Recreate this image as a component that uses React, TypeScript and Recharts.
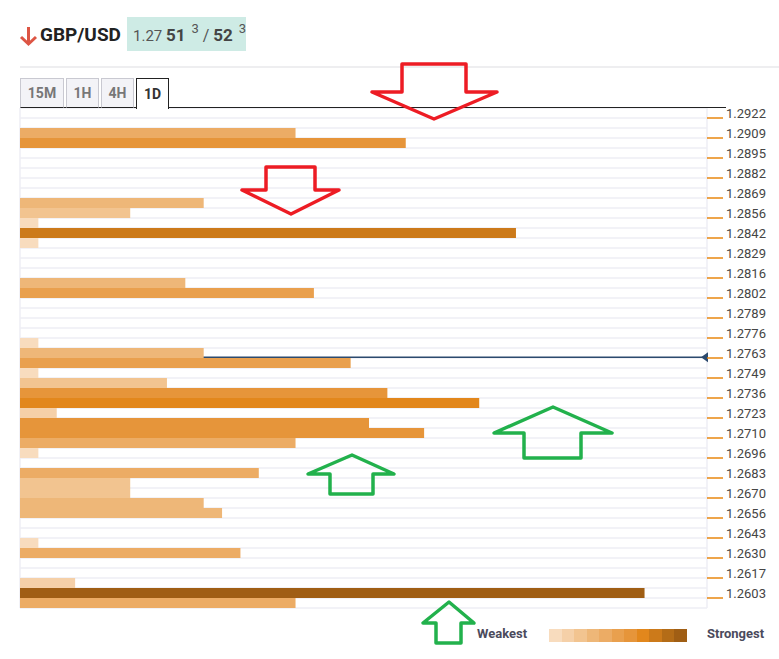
import React from 'react';
import { BarChart, Bar, XAxis, YAxis, CartesianGrid, Cell } from 'recharts';

// price levels shown on the right axis (one label every second row)
const tickLabels = [
    '1.2922', '1.2909', '1.2895', '1.2882', '1.2869', '1.2856', '1.2842', '1.2829',
    '1.2816', '1.2802', '1.2789', '1.2776', '1.2763', '1.2749', '1.2736', '1.2723',
    '1.2710', '1.2696', '1.2683', '1.2670', '1.2656', '1.2643', '1.2630', '1.2617', '1.2603',
];

// confluence strength per row, top to bottom
const strength = [
    0, 0, 15, 21, 0, 0, 0, 0, 0, 10,
    6, 1, 27, 1, 0, 0, 0, 9, 16, 0,
    0, 0, 0, 1, 10, 18, 1, 8, 20, 25,
    2, 19, 22, 15, 1, 0, 13, 6, 6, 10,
    11, 0, 0, 1, 12, 0, 0, 3, 34, 15,
];

const currentPriceRow = 24; // live price sits on the bottom edge of this row
const timeframes = ['15M', '1H', '4H', '1D'];
const activeTimeframe = '1D';

const PALETTE = [
    '#F8DCBE', '#F5D0A8', '#F2C490', '#EEB778', '#ECAC65', '#E9A04E',
    '#E6953A', '#E2871C', '#CC7A1A', '#B46C17', '#A05E14',
];
const LIMITS = [1, 3, 8, 11, 15, 18, 22, 26, 29, 32];

const colorFor = (v: number) => {
    const idx = LIMITS.findIndex(l => v <= l);
    return PALETTE[idx === -1 ? PALETTE.length - 1 : idx];
};

const data = strength.map((v, i) => ({
    row: i,
    value: v,
    label: i % 2 === 0 ? tickLabels[i / 2] : '',
}));

const PriceTick = (props: any) => {
    const { x, y, payload } = props;
    const label = data[payload.value]?.label;
    if (!label) return null;
    return (
        <g>
            <line x1={x} x2={x + 16} y1={y + 5} y2={y + 5} stroke="#E8870F" strokeWidth={1.5} />
            <text x={x + 19} y={y} dy="0.36em" fontSize={13} fill="#454545" fontFamily="Roboto, sans-serif">
                {label}
            </text>
        </g>
    );
};

// drawn as the row background so the bars cover it, like the original widget
const PriceLine = (props: any) => {
    const { x, y, width, height, payload } = props;
    if (!payload || payload.row !== currentPriceRow) return <g />;
    const ly = y + height - 0.75;
    const ex = x + width;
    return (
        <g>
            <line x1={x} x2={ex} y1={ly} y2={ly} stroke="#2C4A6E" strokeWidth={1.5} />
            <path d={`M${ex - 6},${ly} L${ex + 1},${ly - 5} L${ex + 1},${ly + 5} Z`} fill="#2C4A6E" />
        </g>
    );
};

// hand-drawn annotation arrows over the chart
const arrows = [
    { color: '#ED1C24', pts: '402,64 466,64 466,92 497,92 434,119 372,92 402,92' },
    { color: '#ED1C24', pts: '266,167 315,167 315,190 339,190 291,214 242,190 266,190' },
    { color: '#22B14C', pts: '553,407 612,433 581,433 581,458 524,458 524,433 494,433' },
    { color: '#22B14C', pts: '352,455 394,474 373,474 373,494 330,494 330,474 308,474' },
    { color: '#22B14C', pts: '449,602 474,623 461,623 461,643 436,643 436,623 423,623' },
];

export default function App() {
    return (
        <div style={{ position: 'absolute', left: 0, top: 0, width: 779, height: 659, background: '#fff', fontFamily: 'Roboto, sans-serif', overflow: 'hidden' }}>
            <div style={{ position: 'absolute', left: 0, top: 0 }}>
                <BarChart
                    width={779}
                    height={659}
                    data={data}
                    layout="vertical"
                    margin={{ top: 108, right: 8, bottom: 51, left: 20 }}
                    barCategoryGap={0}
                    barGap={0}
                >
                    <CartesianGrid
                        stroke="#EEEEF4"
                        strokeWidth={1.5}
                        horizontalCoordinatesGenerator={({ offset }: any) =>
                            Array.from({ length: strength.length + 1 }, (_, i) => offset.top + (i * offset.height) / strength.length)}
                        verticalCoordinatesGenerator={({ offset }: any) => [offset.left, offset.left + offset.width]}
                    />
                    <XAxis type="number" domain={[0, 37.4]} hide />
                    <YAxis
                        type="category"
                        dataKey="row"
                        orientation="right"
                        width={64}
                        axisLine={false}
                        tickLine={false}
                        tickSize={0}
                        tickMargin={0}
                        interval={0}
                        tick={<PriceTick />}
                    />
                    <Bar dataKey="value" isAnimationActive={false} background={(p: any) => <PriceLine {...p} />}>
                        {data.map((d, i) => (
                            <Cell key={`cell-${i}`} fill={colorFor(d.value)} />
                        ))}
                    </Bar>
                </BarChart>
            </div>

            {/* header */}
            <svg width={20} height={22} style={{ position: 'absolute', left: 19, top: 25 }}>
                <path d="M9.5,2 L9.5,19 M2,12 L9.5,19 L17,12" stroke="#DD5544" strokeWidth={3} fill="none" />
            </svg>
            <div style={{ position: 'absolute', left: 40, top: 22, fontSize: 19, fontWeight: 700, color: '#222', lineHeight: '26px' }}>
                GBP/USD
            </div>
            <div style={{ position: 'absolute', left: 127, top: 17, width: 119, height: 34, background: '#CEEBE5' }}>
                <div style={{ position: 'absolute', left: 6, top: 8, whiteSpace: 'pre', color: '#555', lineHeight: '20px' }}>
                    <span style={{ fontSize: 15 }}>1.27 </span>
                    <span style={{ fontSize: 17, fontWeight: 700, color: '#444' }}>51</span>
                    <span style={{ fontSize: 13, position: 'relative', top: -8, marginLeft: 6 }}>3</span>
                    <span style={{ fontSize: 16 }}> / </span>
                    <span style={{ fontSize: 17, fontWeight: 700, color: '#444' }}>52</span>
                    <span style={{ fontSize: 13, position: 'relative', top: -8, marginLeft: 6 }}>3</span>
                </div>
            </div>
            <div style={{ position: 'absolute', left: 20, top: 66, width: 759, height: 2, background: '#EEEEF0' }} />

            {/* timeframe tabs */}
            <div style={{ position: 'absolute', left: 20, top: 107, width: 706, height: 1, background: '#222' }} />
            <div style={{ position: 'absolute', left: 20, top: 78, display: 'flex', gap: 2 }}>
                {timeframes.map(t => {
                    const active = t === activeTimeframe;
                    return (
                        <div
                            key={t}
                            style={{
                                width: t === '15M' ? 42 : 31,
                                height: active ? 30 : 28,
                                border: `1px solid ${active ? '#222' : '#C9C9D1'}`,
                                borderBottom: active ? 'none' : '1px solid #222',
                                background: active ? '#fff' : '#F3F3F7',
                                color: active ? '#333' : '#777',
                                fontSize: 14,
                                fontWeight: 700,
                                display: 'flex',
                                alignItems: 'center',
                                justifyContent: 'center',
                            }}
                        >
                            {t}
                        </div>
                    );
                })}
            </div>

            {/* legend */}
            <div style={{ position: 'absolute', left: 477, top: 626, fontSize: 13, fontWeight: 700, color: '#4B4B5C', lineHeight: '16px' }}>Weakest</div>
            <div style={{ position: 'absolute', left: 549, top: 629, display: 'flex' }}>
                {PALETTE.map(c => (
                    <div key={c} style={{ width: 12.5, height: 13, background: c }} />
                ))}
            </div>
            <div style={{ position: 'absolute', left: 707, top: 626, fontSize: 13, fontWeight: 700, color: '#4B4B5C', lineHeight: '16px' }}>Strongest</div>

            {/* annotation arrows */}
            <svg width={779} height={659} style={{ position: 'absolute', left: 0, top: 0, pointerEvents: 'none' }}>
                {arrows.map((a, i) => (
                    <polygon key={i} points={a.pts} fill="none" stroke={a.color} strokeWidth={3.5} strokeLinejoin="round" />
                ))}
            </svg>
        </div>
    );
}
